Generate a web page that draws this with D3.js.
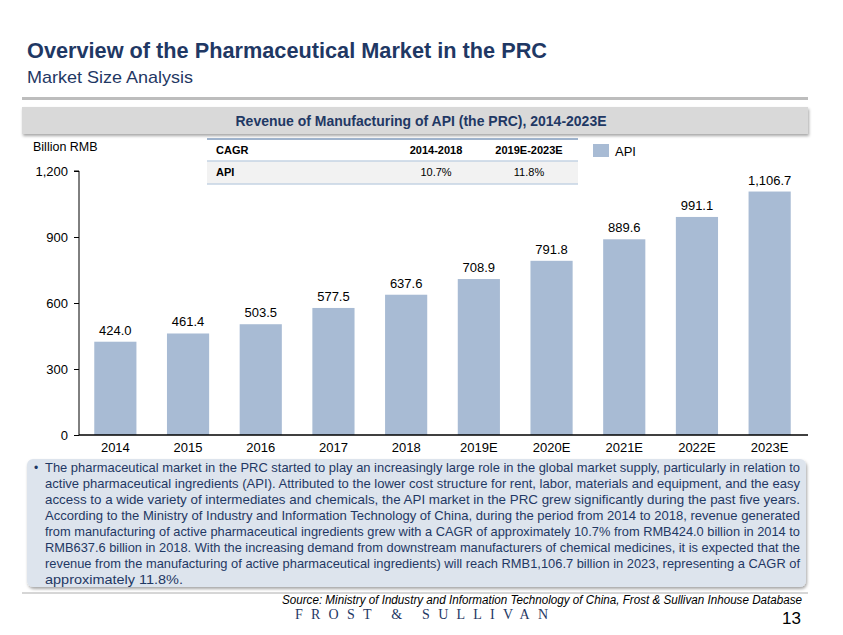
<!DOCTYPE html>
<html>
<head>
<meta charset="utf-8">
<script src="https://cdn.jsdelivr.net/npm/d3@7"></script>
<style>
  html, body { margin: 0; padding: 0; background: #fff; }
  svg { display: block; font-family: "Liberation Sans", Arial, sans-serif; }
</style>
</head>
<body>
<svg id="chart" width="843" height="635"></svg>
<script>
// ---------- data ----------
const years = ["2014", "2015", "2016", "2017", "2018", "2019E", "2020E", "2021E", "2022E", "2023E"];
const apiRevenue = [424.0, 461.4, 503.5, 577.5, 637.6, 708.9, 791.8, 889.6, 991.1, 1106.7];
const yTicks = [0, 300, 600, 900, 1200];
const cagrHeader = ["CAGR", "2014-2018", "2019E-2023E"];
const cagrRow = ["API", "10.7%", "11.8%"];
const seriesName = "API";
const pageTitle = "Overview of the Pharmaceutical Market in the PRC";
const pageSubtitle = "Market Size Analysis";
const chartTitle = "Revenue of Manufacturing of API (the PRC), 2014-2023E";
const unitLabel = "Billion RMB";
const bodyLines = [
  "The pharmaceutical market in the PRC started to play an increasingly large role in the global market supply, particularly in relation to",
  "active pharmaceutical ingredients (API). Attributed to the lower cost structure for rent, labor, materials and equipment, and the easy",
  "access to a wide variety of intermediates and chemicals, the API market in the PRC grew significantly during the past five years.",
  "According to the Ministry of Industry and Information Technology of China, during the period from 2014 to 2018, revenue generated",
  "from manufacturing of active pharmaceutical ingredients grew with a CAGR of approximately 10.7% from RMB424.0 billion in 2014 to",
  "RMB637.6 billion in 2018. With the increasing demand from downstream manufacturers of chemical medicines, it is expected that the",
  "revenue from the manufacturing of active pharmaceutical ingredients) will reach RMB1,106.7 billion in 2023, representing a CAGR of",
  "approximately 11.8%."
];
const sourceText = "Source: Ministry of Industry and Information Technology of China, Frost & Sullivan Inhouse Database";
const pageNumber = "13";

// ---------- styles ----------
const navy = "#1f3864";
const barColor = "#a8bbd4";

const svg = d3.select("#chart");
const defs = svg.append("defs");
const sh = defs.append("filter").attr("id", "shadow").attr("x", "-5%").attr("y", "-20%").attr("width", "110%").attr("height", "150%");
sh.append("feDropShadow").attr("dx", 1).attr("dy", 2).attr("stdDeviation", 1.5).attr("flood-color", "#000").attr("flood-opacity", 0.35);

// ---------- header ----------
svg.append("text").attr("x", 27).attr("y", 58).attr("fill", navy)
  .attr("font-size", 22).attr("font-weight", "bold")
  .attr("textLength", 520).attr("lengthAdjust", "spacingAndGlyphs").text(pageTitle);
svg.append("text").attr("x", 27).attr("y", 83).attr("fill", navy)
  .attr("font-size", 17).attr("textLength", 166).attr("lengthAdjust", "spacingAndGlyphs").text(pageSubtitle);
svg.append("rect").attr("x", 22).attr("y", 97).attr("width", 786).attr("height", 3).attr("fill", "#bdbdbd");

// chart title bar
svg.append("rect").attr("x", 22).attr("y", 107).attr("width", 786).attr("height", 27)
  .attr("fill", "#d9d9d9").attr("filter", "url(#shadow)");
svg.append("text").attr("x", 421).attr("y", 126).attr("text-anchor", "middle").attr("fill", navy)
  .attr("font-size", 14).attr("font-weight", "bold")
  .attr("textLength", 371).attr("lengthAdjust", "spacingAndGlyphs").text(chartTitle);

// ---------- chart ----------
const x = d3.scaleBand().domain(years).range([79, 806]).paddingInner(0.42).paddingOuter(0.21);
const y = d3.scaleLinear().domain([0, 1200]).range([435, 171]);

svg.append("text").attr("x", 33).attr("y", 151).attr("font-size", 12.5).attr("fill", "#000").text(unitLabel);

const yAxis = svg.append("g").attr("transform", "translate(79,0)")
  .call(d3.axisLeft(y).tickValues(yTicks).tickSize(5).tickFormat(d3.format(",")));
yAxis.select(".domain").attr("stroke", "#000").attr("d", `M-5,${y(1200)}H0V${y(0)}`);
yAxis.selectAll(".tick line").attr("stroke", "#000");
yAxis.selectAll(".tick text").attr("font-size", 13).attr("fill", "#000").attr("font-family", "Liberation Sans, Arial, sans-serif").attr("x", -11);

svg.selectAll("rect.bar").data(apiRevenue).join("rect").attr("class", "bar")
  .attr("x", (d, i) => x(years[i])).attr("width", x.bandwidth())
  .attr("y", d => y(d)).attr("height", d => y(0) - y(d)).attr("fill", barColor);

svg.selectAll("text.val").data(apiRevenue).join("text").attr("class", "val")
  .attr("x", (d, i) => x(years[i]) + x.bandwidth() / 2).attr("y", d => y(d) - 7)
  .attr("text-anchor", "middle").attr("font-size", 13).attr("fill", "#000")
  .text(d => d3.format(",.1f")(d));

const xAxis = svg.append("g").attr("transform", `translate(0,${y(0)})`)
  .call(d3.axisBottom(x).tickSize(0).tickPadding(8));
xAxis.select(".domain").attr("stroke", "#000").attr("stroke-width", 1.5).attr("d", "M79,0H808");
xAxis.selectAll(".tick text").attr("font-size", 13).attr("fill", "#000").attr("font-family", "Liberation Sans, Arial, sans-serif");

// ---------- CAGR table ----------
const tbl = svg.append("g");
const tx0 = 207, tx1 = 578;
const colX = [216, 436, 529];
const colAnchor = ["start", "middle", "middle"];
tbl.append("rect").attr("x", tx0).attr("y", 161).attr("width", tx1 - tx0).attr("height", 23).attr("fill", "#f2f2f2");
tbl.append("line").attr("x1", tx0).attr("x2", tx1).attr("y1", 139).attr("y2", 139).attr("stroke", "#9fb3cc").attr("stroke-width", 2);
tbl.append("line").attr("x1", tx0).attr("x2", tx1).attr("y1", 161).attr("y2", 161).attr("stroke", "#c5d3e3").attr("stroke-width", 1.5);
tbl.append("line").attr("x1", tx0).attr("x2", tx1).attr("y1", 184).attr("y2", 184).attr("stroke", "#c5d3e3").attr("stroke-width", 1.5);
cagrHeader.forEach((t, i) => {
  tbl.append("text").attr("x", colX[i]).attr("y", 154).attr("text-anchor", colAnchor[i])
    .attr("font-size", 11).attr("font-weight", "bold").attr("fill", "#000").text(t);
});
cagrRow.forEach((t, i) => {
  tbl.append("text").attr("x", colX[i]).attr("y", 176).attr("text-anchor", colAnchor[i])
    .attr("font-size", 11).attr("font-weight", i === 0 ? "bold" : "normal").attr("fill", "#000").text(t);
});

// legend
svg.append("rect").attr("x", 593).attr("y", 144).attr("width", 16).attr("height", 13).attr("fill", barColor);
svg.append("text").attr("x", 615).attr("y", 156).attr("font-size", 13).attr("fill", "#000").text(seriesName);

// ---------- text box ----------
svg.append("rect").attr("x", 27).attr("y", 459).attr("width", 779).attr("height", 128).attr("rx", 6)
  .attr("fill", "#dde4ed").attr("filter", "url(#shadow)");
svg.append("text").attr("x", 34).attr("y", 472).attr("font-size", 12).attr("fill", navy).text("•");
const left = 45, right = 800;
bodyLines.forEach((line, i) => {
  const t = svg.append("text").attr("x", left).attr("y", 472 + i * 16)
    .attr("font-size", 13.5).attr("fill", navy).text(line);
  if (i < bodyLines.length - 1) {
    t.attr("textLength", right - left).attr("lengthAdjust", "spacingAndGlyphs");
  } else {
    t.attr("textLength", 138).attr("lengthAdjust", "spacingAndGlyphs");
  }
});

// ---------- footer ----------
svg.append("line").attr("x1", 22).attr("x2", 808).attr("y1", 593).attr("y2", 593).attr("stroke", "#c8c8c8").attr("stroke-width", 1.5);
svg.append("text").attr("x", 282).attr("y", 604).attr("font-size", 12)
  .attr("font-style", "italic").attr("fill", "#000")
  .attr("textLength", 520).attr("lengthAdjust", "spacingAndGlyphs").text(sourceText);
svg.append("text").attr("x", 295).attr("y", 619).attr("font-family", "Liberation Serif, serif")
  .attr("font-size", 14).attr("fill", navy)
  .attr("textLength", 253).attr("lengthAdjust", "spacing").text("FROST & SULLIVAN");
svg.append("text").attr("x", 801).attr("y", 624).attr("text-anchor", "end").attr("font-size", 17)
  .attr("fill", "#000").text(pageNumber);
</script>
</body>
</html>
